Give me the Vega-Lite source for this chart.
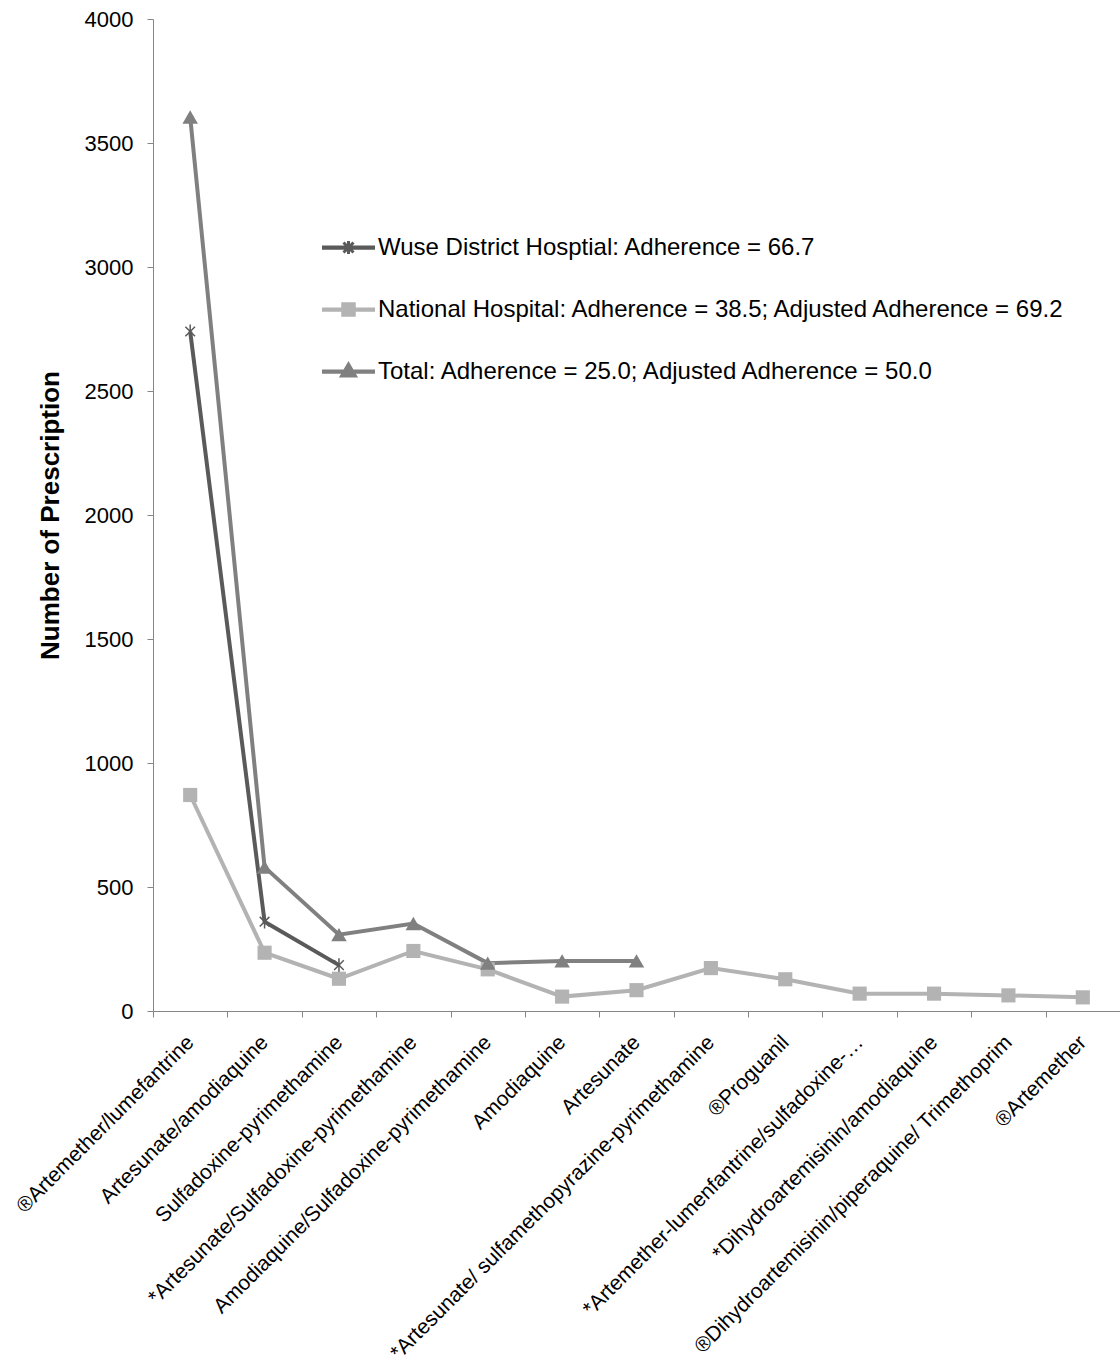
{
  "$schema": "https://vega.github.io/schema/vega-lite/v6.json",
  "background": "white",
  "autosize": "none",
  "padding": {"left": 153, "top": 19, "right": 0, "bottom": 359},
  "width": 967,
  "height": 992,
  "config": {
    "view": {"stroke": null},
    "font": "Liberation Sans",
    "axis": {"domainColor": "#868686", "tickColor": "#868686", "labelColor": "black", "titleColor": "black", "grid": false}
  },
  "data": {
    "values": [
      {"drug": "®Artemether/lumefantrine", "series": "Wuse District Hosptial: Adherence = 66.7", "count": 2740},
      {"drug": "Artesunate/amodiaquine", "series": "Wuse District Hosptial: Adherence = 66.7", "count": 360},
      {"drug": "Sulfadoxine-pyrimethamine", "series": "Wuse District Hosptial: Adherence = 66.7", "count": 185},

      {"drug": "®Artemether/lumefantrine", "series": "National Hospital: Adherence = 38.5; Adjusted Adherence = 69.2", "count": 871},
      {"drug": "Artesunate/amodiaquine", "series": "National Hospital: Adherence = 38.5; Adjusted Adherence = 69.2", "count": 235},
      {"drug": "Sulfadoxine-pyrimethamine", "series": "National Hospital: Adherence = 38.5; Adjusted Adherence = 69.2", "count": 130},
      {"drug": "*Artesunate/Sulfadoxine-pyrimethamine", "series": "National Hospital: Adherence = 38.5; Adjusted Adherence = 69.2", "count": 242},
      {"drug": "Amodiaquine/Sulfadoxine-pyrimethamine", "series": "National Hospital: Adherence = 38.5; Adjusted Adherence = 69.2", "count": 168},
      {"drug": "Amodiaquine", "series": "National Hospital: Adherence = 38.5; Adjusted Adherence = 69.2", "count": 58},
      {"drug": "Artesunate", "series": "National Hospital: Adherence = 38.5; Adjusted Adherence = 69.2", "count": 84},
      {"drug": "*Artesunate/ sulfamethopyrazine-pyrimethamine", "series": "National Hospital: Adherence = 38.5; Adjusted Adherence = 69.2", "count": 173},
      {"drug": "®Proguanil", "series": "National Hospital: Adherence = 38.5; Adjusted Adherence = 69.2", "count": 128},
      {"drug": "*Artemether-lumenfantrine/sulfadoxine-…", "series": "National Hospital: Adherence = 38.5; Adjusted Adherence = 69.2", "count": 70},
      {"drug": "*Dihydroartemisinin/amodiaquine", "series": "National Hospital: Adherence = 38.5; Adjusted Adherence = 69.2", "count": 70},
      {"drug": "®Dihydroartemisinin/piperaquine/ Trimethoprim", "series": "National Hospital: Adherence = 38.5; Adjusted Adherence = 69.2", "count": 63},
      {"drug": "®Artemether", "series": "National Hospital: Adherence = 38.5; Adjusted Adherence = 69.2", "count": 55},

      {"drug": "®Artemether/lumefantrine", "series": "Total: Adherence = 25.0; Adjusted Adherence = 50.0", "count": 3605},
      {"drug": "Artesunate/amodiaquine", "series": "Total: Adherence = 25.0; Adjusted Adherence = 50.0", "count": 580},
      {"drug": "Sulfadoxine-pyrimethamine", "series": "Total: Adherence = 25.0; Adjusted Adherence = 50.0", "count": 308},
      {"drug": "*Artesunate/Sulfadoxine-pyrimethamine", "series": "Total: Adherence = 25.0; Adjusted Adherence = 50.0", "count": 353},
      {"drug": "Amodiaquine/Sulfadoxine-pyrimethamine", "series": "Total: Adherence = 25.0; Adjusted Adherence = 50.0", "count": 193},
      {"drug": "Amodiaquine", "series": "Total: Adherence = 25.0; Adjusted Adherence = 50.0", "count": 202},
      {"drug": "Artesunate", "series": "Total: Adherence = 25.0; Adjusted Adherence = 50.0", "count": 202}
    ]
  },
  "encoding": {
    "x": {
      "field": "drug",
      "type": "nominal",
      "sort": null,
      "title": null,
      "scale": {"paddingInner": 0, "paddingOuter": 0},
      "axis": {
        "tickBand": "extent",
        "tickSize": 6,
        "labelAngle": -45,
        "labelAlign": "right",
        "labelBaseline": "middle",
        "labelFontSize": 21,
        "labelPadding": 22,
        "labelLimit": 1000,
        "labelOverlap": false,
        "labelBound": false
      }
    },
    "y": {
      "field": "count",
      "type": "quantitative",
      "title": "Number of Prescription",
      "scale": {"domain": [0, 4000], "nice": false},
      "axis": {
        "values": [0, 500, 1000, 1500, 2000, 2500, 3000, 3500, 4000],
        "format": "d",
        "tickSize": 6,
        "labelFontSize": 22,
        "labelPadding": 14,
        "titleFontSize": 26,
        "titleFontWeight": "bold",
        "titlePadding": 21
      }
    }
  },
  "layer": [
    {
      "mark": {"type": "line", "strokeWidth": 4},
      "encoding": {
        "color": {
          "field": "series",
          "type": "nominal",
          "scale": {
            "domain": [
              "Wuse District Hosptial: Adherence = 66.7",
              "National Hospital: Adherence = 38.5; Adjusted Adherence = 69.2",
              "Total: Adherence = 25.0; Adjusted Adherence = 50.0"
            ],
            "range": ["#5a5a5a", "#b3b3b3", "#808080"]
          },
          "legend": {
            "title": null,
            "orient": "none",
            "legendX": 169,
            "legendY": 202,
            "labelFontSize": 24,
            "labelLimit": 1000,
            "labelOffset": 3,
            "rowPadding": 23,
            "symbolSize": 2500,
            "symbolStrokeWidth": 3,
            "encode": {
              "symbols": {
                "update": {
                  "shape": {"signal": "indexof(datum.value, 'Wuse') === 0 ? 'M-1,-0.025L1,-0.025L1,0.025L-1,0.025ZM-0.2,-0.2L0.2,0.2M-0.2,0.2L0.2,-0.2M0,-0.26L0,0.26' : indexof(datum.value, 'National') === 0 ? 'M-1,-0.025L1,-0.025L1,0.025L-1,0.025ZM-0.23,-0.23L0.23,-0.23L0.23,0.23L-0.23,0.23Z' : 'M-1,-0.025L1,-0.025L1,0.025L-1,0.025ZM0,-0.3L0.28,0.18L-0.28,0.18Z'"},
                  "size": {"value": 2500},
                  "fill": {"scale": "color", "field": "value"},
                  "stroke": {"scale": "color", "field": "value"},
                  "strokeWidth": {"value": 3}
                }
              }
            }
          }
        }
      }
    },
    {
      "transform": [{"filter": "indexof(datum.series, 'Wuse') === 0"}],
      "mark": {"type": "point", "filled": false, "shape": "M-0.7,-0.7L0.7,0.7M-0.7,0.7L0.7,-0.7M0,-1L0,1", "size": 190, "strokeWidth": 1.5, "color": "#5a5a5a", "opacity": 1}
    },
    {
      "transform": [{"filter": "indexof(datum.series, 'National') === 0"}],
      "mark": {"type": "point", "filled": true, "shape": "square", "size": 200, "color": "#b3b3b3", "opacity": 1}
    },
    {
      "transform": [{"filter": "indexof(datum.series, 'Total') === 0"}],
      "mark": {"type": "point", "filled": true, "shape": "triangle-up", "size": 240, "color": "#808080", "opacity": 1}
    }
  ]
}
